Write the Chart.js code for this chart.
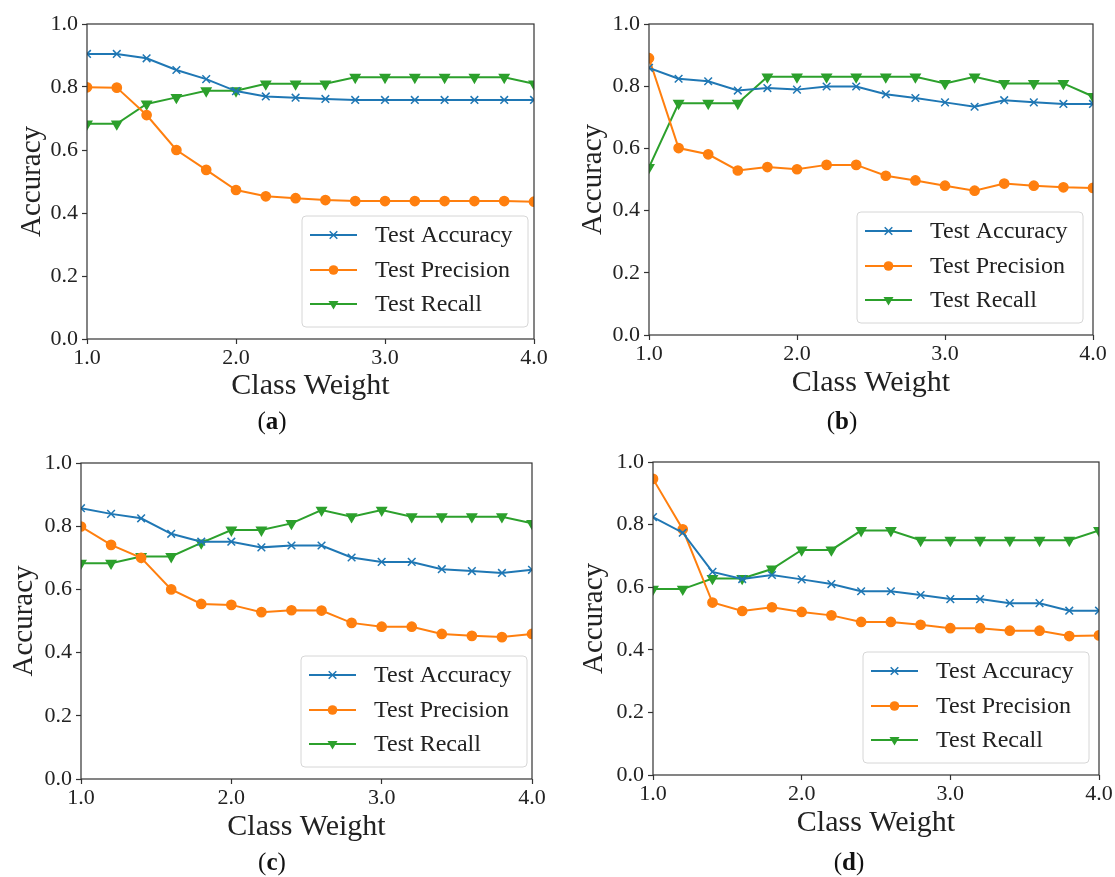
<!DOCTYPE html>
<html>
<head>
<meta charset="utf-8">
<script src="https://cdn.jsdelivr.net/npm/chart.js@4/dist/chart.umd.min.js"></script>
<style>
  body { margin: 0; background: #fff; }
  #wrap { position: relative; width: 1115px; height: 877px; overflow: hidden; }
  canvas { position: absolute; }
  .cap { position: absolute; font-family: "Liberation Serif", "DejaVu Serif", serif; font-size: 25px; color: #111; transform: translate(-50%, -50%); }
</style>
</head>
<body>
<div id="wrap">
  <canvas id="ca" width="557" height="438" style="left:0;top:0"></canvas>
  <canvas id="cb" width="558" height="438" style="left:557px;top:0"></canvas>
  <canvas id="cc" width="557" height="439" style="left:0;top:438px"></canvas>
  <canvas id="cd" width="558" height="439" style="left:557px;top:438px"></canvas>
  <div class="cap" style="left:272px;top:421px">(<b>a</b>)</div>
  <div class="cap" style="left:842px;top:421px">(<b>b</b>)</div>
  <div class="cap" style="left:272px;top:862px">(<b>c</b>)</div>
  <div class="cap" style="left:849px;top:862px">(<b>d</b>)</div>
</div>
<script>
// class weight values on the x axis
const weights = [1.0, 1.2, 1.4, 1.6, 1.8, 2.0, 2.2, 2.4, 2.6, 2.8, 3.0, 3.2, 3.4, 3.6, 3.8, 4.0];
const xTicks = [1.0, 2.0, 3.0, 4.0];
const yTicks = [0.0, 0.2, 0.4, 0.6, 0.8, 1.0];
const seriesNames = ['Test Accuracy', 'Test Precision', 'Test Recall'];

// (a)
const accA  = [0.905, 0.905, 0.891, 0.854, 0.825, 0.787, 0.770, 0.766, 0.762, 0.759, 0.759, 0.759, 0.759, 0.759, 0.759, 0.759];
const precA = [0.799, 0.798, 0.711, 0.600, 0.537, 0.473, 0.453, 0.447, 0.441, 0.438, 0.438, 0.438, 0.438, 0.438, 0.438, 0.436];
const recA  = [0.683, 0.683, 0.746, 0.767, 0.788, 0.788, 0.810, 0.810, 0.810, 0.831, 0.831, 0.831, 0.831, 0.831, 0.831, 0.810];
// (b)
const accB  = [0.859, 0.824, 0.816, 0.786, 0.794, 0.789, 0.799, 0.799, 0.774, 0.762, 0.748, 0.734, 0.755, 0.748, 0.743, 0.743];
const precB = [0.890, 0.601, 0.581, 0.529, 0.540, 0.533, 0.547, 0.547, 0.512, 0.497, 0.480, 0.464, 0.487, 0.480, 0.475, 0.473];
const recB  = [0.539, 0.745, 0.745, 0.745, 0.830, 0.830, 0.830, 0.830, 0.830, 0.830, 0.809, 0.830, 0.809, 0.809, 0.809, 0.767];
// (c)
const accC  = [0.857, 0.839, 0.825, 0.776, 0.751, 0.751, 0.733, 0.739, 0.739, 0.701, 0.687, 0.687, 0.664, 0.658, 0.652, 0.662];
const precC = [0.799, 0.741, 0.700, 0.600, 0.554, 0.551, 0.528, 0.534, 0.533, 0.494, 0.482, 0.482, 0.459, 0.453, 0.449, 0.459];
const recC  = [0.683, 0.683, 0.704, 0.704, 0.747, 0.788, 0.788, 0.809, 0.851, 0.830, 0.851, 0.830, 0.830, 0.830, 0.830, 0.809];
// (d)
const accD  = [0.824, 0.774, 0.649, 0.626, 0.639, 0.625, 0.610, 0.587, 0.587, 0.575, 0.562, 0.562, 0.549, 0.549, 0.525, 0.525];
const precD = [0.946, 0.785, 0.551, 0.524, 0.536, 0.521, 0.510, 0.489, 0.489, 0.480, 0.469, 0.469, 0.461, 0.461, 0.444, 0.446];
const recD  = [0.594, 0.594, 0.628, 0.628, 0.658, 0.719, 0.719, 0.781, 0.781, 0.750, 0.750, 0.750, 0.750, 0.750, 0.750, 0.781];

const BLUE = '#1f77b4', ORANGE = '#ff7f0e', GREEN = '#2ca02c';
const SERIF = '"Liberation Serif", "DejaVu Serif", serif';
const AXIS = '#333333';

function drawMarker(ctx, style, x, y, color) {
  ctx.save();
  ctx.strokeStyle = color;
  ctx.fillStyle = color;
  ctx.lineWidth = 1.5;
  ctx.beginPath();
  if (style === 'crossRot') {
    ctx.moveTo(x - 3.8, y - 3.8); ctx.lineTo(x + 3.8, y + 3.8);
    ctx.moveTo(x + 3.8, y - 3.8); ctx.lineTo(x - 3.8, y + 3.8);
    ctx.stroke();
  } else if (style === 'circle') {
    ctx.arc(x, y, 4.8, 0, Math.PI * 2);
    ctx.fill();
  } else {
    ctx.moveTo(x - 5, y - 3); ctx.lineTo(x + 5, y - 3); ctx.lineTo(x, y + 5.5);
    ctx.closePath();
    ctx.fill();
  }
  ctx.restore();
}

// spines on all four sides, like matplotlib
const framePlugin = {
  id: 'frame',
  afterDatasetsDraw(chart) {
    const {ctx, chartArea: a} = chart;
    ctx.save();
    ctx.strokeStyle = AXIS;
    ctx.lineWidth = 1.2;
    ctx.strokeRect(a.left, a.top, a.right - a.left, a.bottom - a.top);
    ctx.restore();
  }
};

// legend box in the lower right corner of the plot area
const boxLegend = {
  id: 'boxLegend',
  afterDraw(chart, args, opts) {
    const {ctx, chartArea: a} = chart;
    const w = 226, h = 111;
    const right = a.right - (opts.inset || 7);
    const bottom = a.bottom - 12;
    const left = right - w, top = bottom - h;
    ctx.save();
    ctx.beginPath();
    ctx.roundRect(left, top, w, h, 4);
    ctx.fillStyle = 'rgba(255,255,255,0.85)';
    ctx.fill();
    ctx.strokeStyle = '#d6d6d6';
    ctx.lineWidth = 1;
    ctx.stroke();
    ctx.font = '24px ' + SERIF;
    ctx.textBaseline = 'middle';
    const rows = [19, 54, 88];
    chart.data.datasets.forEach((ds, i) => {
      const y = top + rows[i];
      const x0 = left + 8, x1 = left + 55;
      ctx.strokeStyle = ds.borderColor;
      ctx.lineWidth = 2;
      ctx.beginPath();
      ctx.moveTo(x0, y); ctx.lineTo(x1, y);
      ctx.stroke();
      drawMarker(ctx, ds.pointStyle, (x0 + x1) / 2, y, ds.borderColor);
      ctx.fillStyle = '#222';
      ctx.fillText(ds.label, left + 73, y + 1);
    });
    ctx.restore();
  }
};

function makeChart(id, acc, prec, rec, lay) {
  const pts = arr => arr.map((v, i) => ({x: weights[i], y: v}));
  const common = {borderWidth: 2, pointBorderWidth: 1.5, clip: 0, tension: 0};
  new Chart(document.getElementById(id), {
    type: 'line',
    data: {
      datasets: [
        Object.assign({label: seriesNames[0], data: pts(acc), borderColor: BLUE, backgroundColor: BLUE,
          pointStyle: 'crossRot', pointRadius: 5.4, pointBackgroundColor: BLUE, pointBorderColor: BLUE}, common),
        Object.assign({label: seriesNames[1], data: pts(prec), borderColor: ORANGE, backgroundColor: ORANGE,
          pointStyle: 'circle', pointRadius: 4.6, pointBackgroundColor: ORANGE, pointBorderColor: ORANGE}, common),
        Object.assign({label: seriesNames[2], data: pts(rec), borderColor: GREEN, backgroundColor: GREEN,
          pointStyle: 'triangle', pointRotation: 180, pointRadius: 5.4, pointBorderWidth: 1,
          pointBackgroundColor: GREEN, pointBorderColor: GREEN}, common)
      ]
    },
    options: {
      responsive: false,
      animation: false,
      devicePixelRatio: 1,
      layout: {padding: {left: 0, top: lay.top, right: lay.right, bottom: 0}},
      plugins: {
        legend: {display: false},
        tooltip: {enabled: false},
        boxLegend: {inset: lay.inset}
      },
      scales: {
        x: {
          type: 'linear', min: 1, max: 4,
          afterBuildTicks: s => { s.ticks = xTicks.map(v => ({value: v})); },
          afterFit: s => { s.height = lay.xH; },
          border: {display: false},
          grid: {drawOnChartArea: false, drawTicks: true, tickLength: 5, tickWidth: 1.2, tickColor: AXIS},
          ticks: {font: {family: SERIF, size: 22}, color: '#222', padding: 1, maxRotation: 0,
            callback: v => Number(v).toFixed(1)},
          title: {display: true, text: 'Class Weight', color: '#222',
            font: {family: SERIF, size: 30}, padding: {top: 0, bottom: lay.xTitle}}
        },
        y: {
          min: 0, max: 1,
          afterBuildTicks: s => { s.ticks = yTicks.map(v => ({value: v})); },
          afterFit: s => { s.width = lay.yW; },
          border: {display: false},
          grid: {drawOnChartArea: false, drawTicks: true, tickLength: 5, tickWidth: 1.2, tickColor: AXIS},
          ticks: {font: {family: SERIF, size: 22}, color: '#222', padding: 4,
            callback: v => Number(v).toFixed(1)},
          title: {display: true, text: 'Accuracy', color: '#222',
            font: {family: SERIF, size: 29}, padding: {top: lay.yTitle, bottom: 0}}
        }
      }
    },
    plugins: [framePlugin, boxLegend]
  });
}

makeChart('ca', accA, precA, recA, {yW: 87, top: 24, right: 23, xH: 99,  xTitle: 34, yTitle: 15, inset: 6});
makeChart('cb', accB, precB, recB, {yW: 92, top: 24, right: 22, xH: 103, xTitle: 37, yTitle: 19, inset: 10});
makeChart('cc', accC, precC, recC, {yW: 81, top: 25, right: 25, xH: 98,  xTitle: 32, yTitle: 7,  inset: 5});
makeChart('cd', accD, precD, recD, {yW: 96, top: 24, right: 16, xH: 102, xTitle: 36, yTitle: 20, inset: 10});
</script>
</body>
</html>
